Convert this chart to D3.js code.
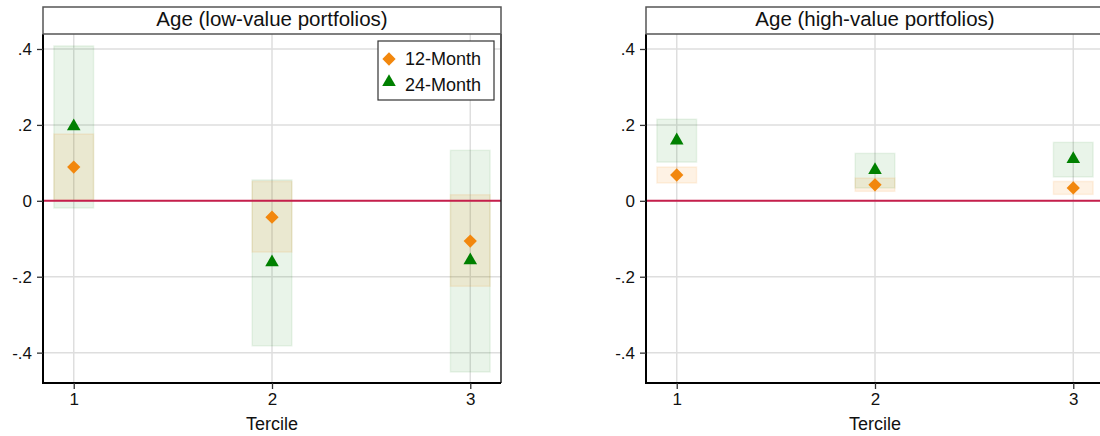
<!DOCTYPE html>
<html>
<head>
<meta charset="utf-8">
<script src="https://cdn.jsdelivr.net/npm/d3@7"></script>
<style>
  html, body { margin: 0; padding: 0; background: #fff; }
  svg { display: block; font-family: "Liberation Sans", Arial, sans-serif; }
</style>
</head>
<body>
<svg id="chart" width="1100" height="436"></svg>
<script>
// ---- data ----
const terciles = [1, 2, 3];
const yTicks = [-0.4, -0.2, 0, 0.2, 0.4];
const yTickLabels = ["-.4", "-.2", "0", ".2", ".4"];
const seriesNames = ["12-Month", "24-Month"];
const panelTitles = ["Age (low-value portfolios)", "Age (high-value portfolios)"];

const lowM12   = [0.089, -0.043, -0.106];
const lowM12Lo = [0.003, -0.135, -0.225];
const lowM12Hi = [0.176,  0.051,  0.016];
const lowM24   = [0.196, -0.162, -0.157];
const lowM24Lo = [-0.019, -0.382, -0.451];
const lowM24Hi = [0.408,  0.055,  0.133];

const highM12   = [0.068, 0.042, 0.034];
const highM12Lo = [0.047, 0.025, 0.017];
const highM12Hi = [0.089, 0.060, 0.051];
const highM24   = [0.159, 0.081, 0.110];
const highM24Lo = [0.102, 0.034, 0.063];
const highM24Hi = [0.215, 0.125, 0.154];

// ---- styles ----
const C12 = "#f2870d", C24 = "#008000";
const svg = d3.select("#chart");

const panels = [
  { left: 43, title: panelTitles[0], legend: true,
    s12: { v: lowM12, lo: lowM12Lo, hi: lowM12Hi },
    s24: { v: lowM24, lo: lowM24Lo, hi: lowM24Hi } },
  { left: 646, title: panelTitles[1], legend: false,
    s12: { v: highM12, lo: highM12Lo, hi: highM12Hi },
    s24: { v: highM24, lo: highM24Lo, hi: highM24Hi } }
];

const PW = 458, TOP = 34, BOTTOM = 383, TITLE_TOP = 7;

panels.forEach(p => {
  const x = d3.scaleLinear().domain([0.845, 3.155]).range([p.left, p.left + PW]);
  const y = d3.scaleLinear().domain([-0.48, 0.4395]).range([BOTTOM, TOP]);
  const g = svg.append("g");

  // grid
  g.selectAll(".hg").data(yTicks).enter().append("line")
    .attr("x1", p.left).attr("x2", p.left + PW)
    .attr("y1", d => y(d)).attr("y2", d => y(d))
    .attr("stroke", "#dedede").attr("stroke-width", 1.5);
  g.selectAll(".vg").data(terciles).enter().append("line")
    .attr("x1", d => x(d)).attr("x2", d => x(d))
    .attr("y1", TOP).attr("y2", BOTTOM)
    .attr("stroke", "#dedede").attr("stroke-width", 1.5);

  // bands
  const band = (s, color, op) => {
    g.selectAll(null).data(terciles).enter().append("rect")
      .attr("x", d => x(d - 0.1))
      .attr("width", d => x(d + 0.1) - x(d - 0.1))
      .attr("y", (d, i) => y(s.hi[i]))
      .attr("height", (d, i) => y(s.lo[i]) - y(s.hi[i]))
      .attr("fill", color).attr("fill-opacity", op)
      .attr("stroke", color).attr("stroke-opacity", op * 0.9).attr("stroke-width", 1.5);
  };
  band(p.s24, C24, 0.085);
  band(p.s12, C12, 0.11);

  // zero line
  g.append("line")
    .attr("x1", p.left).attr("x2", p.left + PW)
    .attr("y1", y(0)).attr("y2", y(0))
    .attr("stroke", "#c61f4c").attr("stroke-width", 2);

  // markers
  const diamond = d3.symbol().type(d3.symbolSquare).size(88);
  const tri = d3.symbol().type(d3.symbolTriangle).size(80);
  g.selectAll(null).data(terciles).enter().append("path")
    .attr("d", diamond())
    .attr("transform", (d, i) => `translate(${x(d)},${y(p.s12.v[i])}) rotate(45)`)
    .attr("fill", C12);
  g.selectAll(null).data(terciles).enter().append("path")
    .attr("d", tri())
    .attr("transform", (d, i) => `translate(${x(d)},${y(p.s24.v[i])})`)
    .attr("fill", C24);

  // frame: right border
  g.append("line").attr("x1", p.left + PW).attr("x2", p.left + PW)
    .attr("y1", TOP).attr("y2", BOTTOM).attr("stroke", "#222").attr("stroke-width", 1.5);

  // axes
  const yAxis = d3.axisLeft(y).tickValues(yTicks).tickSize(6).tickPadding(5)
    .tickFormat((d, i) => yTickLabels[i]);
  const ya = g.append("g").attr("transform", `translate(${p.left},0)`).call(yAxis);
  ya.select(".domain").attr("stroke", "#000").attr("stroke-width", 2)
    .attr("d", `M0,${TOP}V${BOTTOM + 1}`);
  ya.selectAll(".tick line").attr("stroke", "#333").attr("stroke-width", 1.3);
  ya.selectAll(".tick text").attr("font-size", 17).attr("fill", "#111")
    .attr("font-family", "Liberation Sans, Arial, sans-serif");

  const xAxis = d3.axisBottom(x).tickValues(terciles).tickSize(6).tickPadding(4)
    .tickFormat(d3.format("d"));
  const xa = g.append("g").attr("transform", `translate(0,${BOTTOM})`).call(xAxis);
  xa.select(".domain").attr("stroke", "#000").attr("stroke-width", 2)
    .attr("d", `M${p.left - 1},0H${p.left + PW}`);
  xa.selectAll(".tick line").attr("stroke", "#333").attr("stroke-width", 1.3);
  xa.selectAll(".tick text").attr("font-size", 17).attr("fill", "#111")
    .attr("font-family", "Liberation Sans, Arial, sans-serif");

  g.append("text").attr("x", x(2)).attr("y", 430).attr("text-anchor", "middle")
    .attr("font-size", 18).attr("fill", "#111").text("Tercile");

  // title box
  g.append("rect").attr("x", p.left).attr("y", TITLE_TOP)
    .attr("width", PW).attr("height", TOP - TITLE_TOP)
    .attr("fill", "#fff").attr("stroke", "#555").attr("stroke-width", 1.5);
  g.append("text").attr("x", p.left + PW / 2).attr("y", 26).attr("text-anchor", "middle")
    .attr("font-size", 20.5).attr("fill", "#111").text(p.title);

  // legend
  if (p.legend) {
    const lg = g.append("g");
    lg.append("rect").attr("x", p.left + PW - 7 - 116).attr("y", TOP + 7)
      .attr("width", 116).attr("height", 59)
      .attr("fill", "#fff").attr("stroke", "#333").attr("stroke-width", 1.2);
    const lx = p.left + PW - 7 - 116;
    lg.append("path").attr("d", diamond())
      .attr("transform", `translate(${lx + 11},${TOP + 25}) rotate(45)`).attr("fill", C12);
    lg.append("path").attr("d", tri())
      .attr("transform", `translate(${lx + 11},${TOP + 48})`).attr("fill", C24);
    lg.append("text").attr("x", lx + 27).attr("y", TOP + 31)
      .attr("font-size", 18).attr("fill", "#111").text(seriesNames[0]);
    lg.append("text").attr("x", lx + 27).attr("y", TOP + 57)
      .attr("font-size", 18).attr("fill", "#111").text(seriesNames[1]);
  }
});
</script>
</body>
</html>
